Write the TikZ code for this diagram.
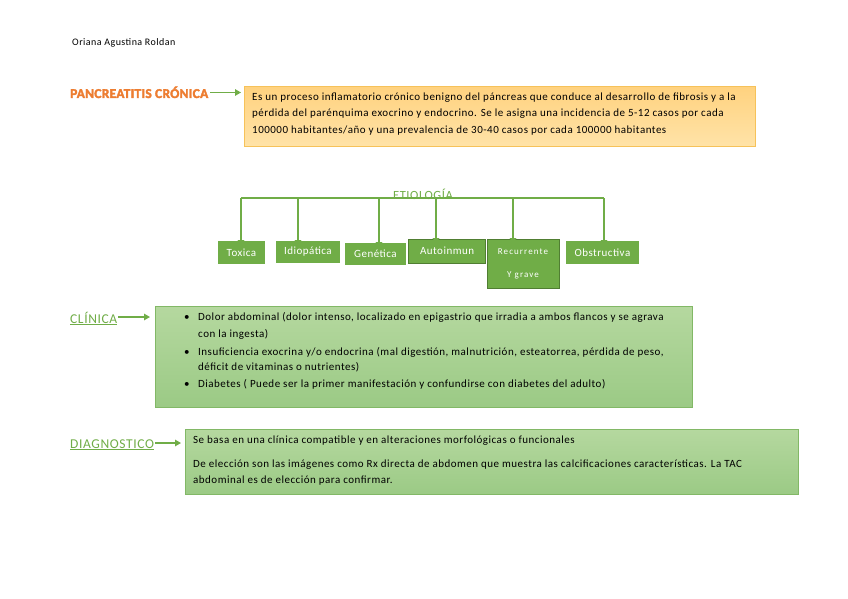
\documentclass[tikz,border=0pt]{standalone}
\usepackage{fontspec}
\setmainfont{Carlito}[LetterSpace=4.5]
\newfontfamily\widefont{Carlito}[LetterSpace=12]
\newfontfamily\heavyfont{Carlito}[LetterSpace=2, FakeBold=2.5]
\usetikzlibrary{arrows.meta}
\definecolor{gr}{HTML}{70AD47}
\definecolor{grdark}{HTML}{507E32}
\definecolor{orlabel}{HTML}{ED7D31}
\definecolor{orfillA}{HTML}{FFD27F}
\definecolor{orfillB}{HTML}{FFE3A8}
\definecolor{orborder}{HTML}{F6C25A}
\definecolor{gfillA}{HTML}{B5D89F}
\definecolor{gfillB}{HTML}{9BCA85}
\definecolor{gborder}{HTML}{82B866}
\tikzset{
  txt/.style={anchor=base west, inner sep=0pt, font=\fontsize{11}{12}\selectfont},
  arr/.style={draw=gr, line width=1.3pt, -{Triangle[length=6pt,width=6.5pt]}},
  ebox/.style={fill=gr, draw=gr, line width=0.8pt, anchor=north west, inner sep=0pt},
  edark/.style={ebox, draw=grdark, line width=1.2pt},
  etext/.style={inner sep=0pt, text=white, font=\fontsize{11}{12}\selectfont},
  lab/.style={anchor=base west, inner sep=0pt, text=gr, font=\fontsize{13.5}{15}\selectfont},
}
\newcommand{\ul}[1]{\underline{#1}}
\begin{document}
\begin{tikzpicture}[x=1pt,y=-1pt]
\useasboundingbox (0,0) rectangle (848,599);
\fill[white] (0,0) rectangle (848,599);

% author
\node[anchor=base west, inner sep=0pt, font=\fontsize{10}{11}\selectfont] (author) at (72,45.5) {Oriana Agustina Roldan};

% title
\node[anchor=base west, inner sep=0pt, text=orlabel, font=\heavyfont\bfseries\fontsize{13.5}{15}\selectfont] (title) at (70,98) {PANCREATITIS CRÓNICA};
\node[draw=orborder, line width=0.8pt, top color=orfillA, bottom color=orfillB, anchor=north west, minimum width=511pt, minimum height=60pt, inner sep=0pt] (def) at (244,86) {};
\draw[arr] (title.east |- 0,92.5) ++(2,0) coordinate (t1) -- ([xshift=-3pt]t1 -| def.west);
\node[txt] (d1) at (252,100.5) {Es un proceso inflamatorio crónico benigno del páncreas que conduce al desarrollo de fibrosis y a la};
\node[txt] (d2) at (252,117) {pérdida del parénquima exocrino y endocrino. Se le asigna una incidencia de 5-12 casos por cada};
\node[txt] (d3) at (252,133.5) {100000 habitantes/año y una prevalencia de 30-40 casos por cada 100000 habitantes};

% etiologia
\coordinate (e1) at (241,198);
\coordinate (e2) at (298,198);
\coordinate (e3) at (379,198);
\coordinate (e4) at (436,198);
\coordinate (e5) at (513,198);
\coordinate (e6) at (604,198);
\draw[gr, line width=1.3pt] (e1) -- (e6);
\node[anchor=base, inner sep=0pt, text=gr, font=\fontsize{12.5}{14}\selectfont] (etio) at (423,199) {ETIOLOGÍA};

\node[ebox, minimum width=46pt, minimum height=22pt] (b1) at (218,241) {};
\node[ebox, minimum width=63pt, minimum height=21pt] (b2) at (276,241) {};
\node[ebox, minimum width=60pt, minimum height=21pt] (b3) at (345,243) {};
\node[edark, minimum width=77pt, minimum height=24pt] (b4) at (408,239) {};
\node[edark, minimum width=72pt, minimum height=49pt] (b5) at (487,239) {};
\node[ebox, minimum width=72pt, minimum height=22pt] (b6) at (566,241) {};

\node[etext] (t1x) at (b1.center) {Toxica};
\node[etext] (t2x) at (b2.center) {Idiopática};
\node[etext] (t3x) at (b3.center) {Genética};
\node[etext] (t4x) at ([yshift=1pt]b4.center) {Autoinmun};
\node[etext, font=\widefont\fontsize{9}{10}\selectfont] (t5x) at (523,252) {Recurrente};
\node[etext, font=\widefont\fontsize{9}{10}\selectfont] (t5y) at (523,275) {Y grave};
\node[etext] (t6x) at (b6.center) {Obstructiva};

\foreach \i in {1,...,6}{
  \draw[arr] (e\i) -- ([yshift=-5pt]e\i |- b\i.north);
}

% clinica
\node[lab] (clin) at (70,323) {\ul{CLÍNICA}};
\node[draw=gborder, line width=0.8pt, top color=gfillA, bottom color=gfillB, anchor=north west, minimum width=537pt, minimum height=101pt, inner sep=0pt] (cbox) at (155,306) {};
\draw[arr] (clin.east |- 0,317) ++(1,0) coordinate (c0) -- ([xshift=-5pt]c0 -| cbox.west);
\node[txt] (bl1) at (184,320.5) {•};
\node[txt] (bl2) at (184,355.5) {•};
\node[txt] (bl3) at (184,387.5) {•};
\node[txt] (c1) at (198,320.5) {Dolor abdominal (dolor intenso, localizado en epigastrio que irradia a ambos flancos y se agrava};
\node[txt] (c2) at (198,337.5) {con la ingesta)};
\node[txt] (c3) at (198,355.5) {Insuficiencia exocrina y/o endocrina (mal digestión, malnutrición, esteatorrea, pérdida de peso,};
\node[txt] (c4) at (198,370.5) {déficit de vitaminas o nutrientes)};
\node[txt] (c5) at (198,387.5) {Diabetes ( Puede ser la primer manifestación y confundirse con diabetes del adulto)};

% diagnostico
\node[lab] (diag) at (70,448) {\ul{DIAGNOSTICO}};
\node[draw=gborder, line width=0.8pt, top color=gfillA, bottom color=gfillB, anchor=north west, minimum width=613pt, minimum height=65pt, inner sep=0pt] (dbox) at (185,429) {};
\draw[arr] (diag.east |- 0,443) ++(1,0) coordinate (g0) -- ([xshift=-4pt]g0 -| dbox.west);
\node[txt] (g1) at (193,443.5) {Se basa en una clínica compatible y en alteraciones morfológicas o funcionales};
\node[txt] (g2) at (193,467.5) {De elección son las imágenes como Rx directa de abdomen que muestra las calcificaciones características. La TAC};
\node[txt] (g3) at (193,483.5) {abdominal es de elección para confirmar.};
\end{tikzpicture}
\end{document}
